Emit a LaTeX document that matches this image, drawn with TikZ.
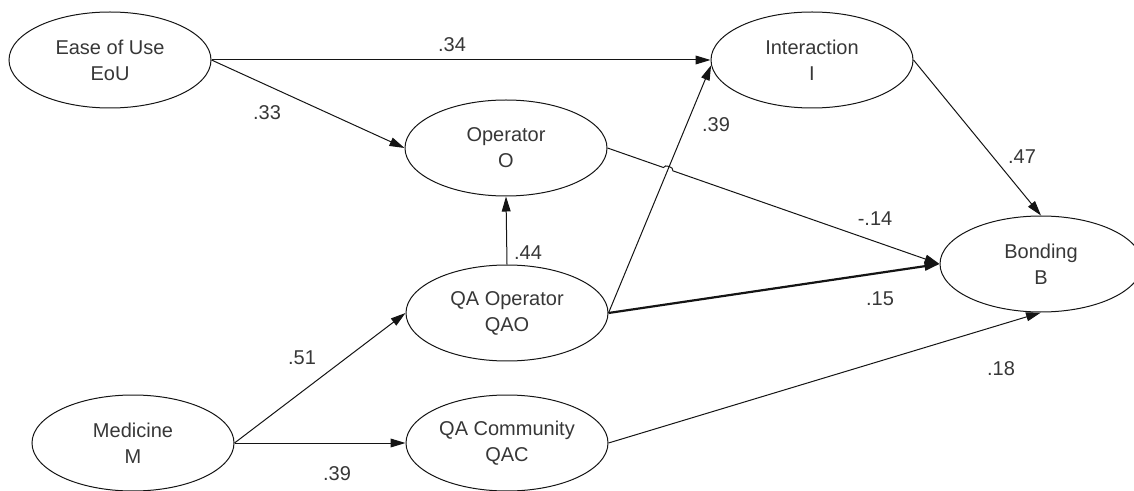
\documentclass[tikz,border=0pt]{standalone}
\usepackage{fontspec}
\setmainfont{Liberation Sans}
\usetikzlibrary{arrows.meta,shapes.geometric,calc}
\definecolor{ink}{RGB}{20,20,20}
\definecolor{label}{RGB}{55,55,55}
\tikzset{
  latent/.style = {ellipse, draw=ink, line width=0.5pt, inner sep=0pt,
                   minimum width=101pt, minimum height=48pt,
                   font=\fontsize{10pt}{13pt}\selectfont, text=label, align=center},
  link/.style   = {-{Triangle[length=7.5pt,width=4.4pt]}, draw=ink, line width=0.5pt},
  strong/.style = {link, line width=1.1pt},
  coef/.style   = {font=\fontsize{10pt}{11pt}\selectfont, text=label},
}

\begin{document}
\begin{tikzpicture}[x=0.5pt, y=-0.5pt]
\useasboundingbox (0,0) rectangle (1134,491);

% ---------------------------------------------------- constructs (pixel grid, y down)
\node[latent] (eou)   at (110,60)   {Ease of Use\\EoU};
\node[latent] (inter) at (812,60)   {Interaction\\I};
\node[latent] (oper)  at (506,148)  {Operator\\O};
\node[latent] (bond)  at (1041,264) {Bonding\\B};
\node[latent] (qao)   at (507,313)  {QA Operator\\QAO};
\node[latent] (med)   at (133,443)  {Medicine\\M};
\node[latent] (qac)   at (507,443)  {QA Community\\QAC};

% ---------------------------------------------------- paths
\draw[link] (eou.east) -- (inter.west);
\draw[link] (eou.east) -- (oper.west);
\draw[link] (inter.east) -- (bond.north);
\draw[link] (qao.north) -- (oper.south);
\draw[link] (qao.east) -- (inter.183);
\draw[strong] (qao.east) -- (bond.west);
\draw[link] (med.east) -- (qao.west);
\draw[link] (med.east) -- (qac.west);
\draw[link] (qac.east) -- (bond.south);

% O -> B hops over the QAO -> I line
\coordinate (hop) at (intersection of oper.east--bond.west and qao.east--inter.183);
\draw[link] (oper.east) -- ($(hop)!2.5pt!(oper.east)$)
  to[bend left=90] ($(hop)!2.5pt!(bond.west)$) -- (bond.west);

% ---------------------------------------------------- coefficients
\node[coef] at (452,45)  {.34};
\node[coef] at (267,113) {.33};
\node[coef] at (716,125) {.39};
\node[coef] at (1022,157) {.47};
\node[coef] at (875,219) {-.14};
\node[coef] at (528,253) {.44};
\node[coef] at (880,299) {.15};
\node[coef] at (1001,369) {.18};
\node[coef] at (302,358) {.51};
\node[coef] at (337,474) {.39};

\end{tikzpicture}
\end{document}
